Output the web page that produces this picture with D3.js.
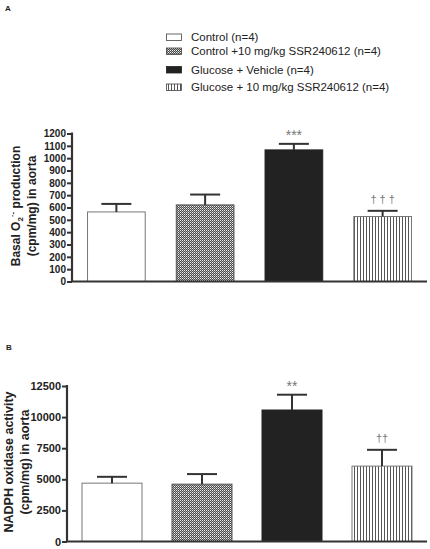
<!DOCTYPE html>
<html><head><meta charset="utf-8">
<script src="https://cdn.jsdelivr.net/npm/d3@7"></script>
<style>body{margin:0;background:#fff}svg{display:block}text{font-family:"Liberation Sans",Arial,sans-serif}</style>
</head><body>
<script>
const categories = ["Control (n=4)", "Control +10 mg/kg SSR240612 (n=4)", "Glucose + Vehicle (n=4)", "Glucose + 10 mg/kg SSR240612 (n=4)"];
const basalMean = [564, 621, 1067, 527];
const basalSem = [65, 84, 49, 46];
const basalMarks = ["", "", "***", "† † †"];
const nadphMean = [4690, 4610, 10570, 6060];
const nadphSem = [510, 810, 1230, 1310];
const nadphMarks = ["", "", "**", "††"];
const basalTicks = [0,100,200,300,400,500,600,700,800,900,1000,1100,1200];
const nadphTicks = [0,2500,5000,7500,10000,12500];

const W = 430, H = 549;
const svg = d3.select("body").append("svg").attr("width", W).attr("height", H);
svg.append("rect").attr("width", W).attr("height", H).attr("fill", "#fff");
const defs = svg.append("defs");
const chk = defs.append("pattern").attr("id","chk").attr("patternUnits","userSpaceOnUse").attr("width",2).attr("height",2);
chk.append("rect").attr("width",2).attr("height",2).attr("fill","#4a4a4a");
chk.append("rect").attr("width",1).attr("height",1).attr("fill","#f0f0f0");
chk.append("rect").attr("x",1).attr("y",1).attr("width",1).attr("height",1).attr("fill","#aaa");
const vl = defs.append("pattern").attr("id","vl").attr("patternUnits","userSpaceOnUse").attr("width",3).attr("height",3);
vl.append("rect").attr("width",3).attr("height",3).attr("fill","#fff");
vl.append("rect").attr("x",0).attr("width",1).attr("height",3).attr("fill","#555");

const fills = ["#fff", "url(#chk)", "#222", "url(#vl)"];
const strokes = ["#777", "#555", "#222", "#777"];

// panel letters
svg.append("text").attr("x",5).attr("y",11).attr("font-size",8).attr("font-weight","bold").attr("fill","#222").text("A");
svg.append("text").attr("x",6).attr("y",350).attr("font-size",8).attr("font-weight","bold").attr("fill","#222").text("B");

// legend
const legY = [37, 51, 69.5, 87];
const leg = svg.append("g");
categories.forEach((c,i)=>{
  leg.append("rect").attr("x",166.5).attr("y",legY[i]-3).attr("width",15).attr("height",6.5)
    .attr("fill",fills[i]).attr("stroke", i===2?"#222":"#444").attr("stroke-width",0.8);
  leg.append("text").attr("x",191).attr("y",legY[i]+4).attr("font-size",11.5).attr("fill","#222").text(c);
});

function panel(opt){
  const g = svg.append("g");
  const x = d3.scaleBand().domain(categories).range([opt.x0, opt.x1]).paddingInner(opt.pi).paddingOuter(opt.pi/2);
  const y = d3.scaleLinear().domain(opt.domain).range([opt.yb, opt.yt]);
  g.selectAll("rect.bar").data(opt.mean).join("rect").attr("class","bar")
    .attr("x",(d,i)=>x(categories[i])).attr("width",x.bandwidth())
    .attr("y",d=>y(d)).attr("height",d=>y(0)-y(d))
    .attr("fill",(d,i)=>fills[i]).attr("stroke",(d,i)=>strokes[i]).attr("stroke-width",1);
  opt.mean.forEach((m,i)=>{
    const cx = x(categories[i]) + x.bandwidth()/2;
    const top = y(m + opt.sem[i]);
    g.append("line").attr("x1",cx).attr("x2",cx).attr("y1",y(m)).attr("y2",top).attr("stroke","#333").attr("stroke-width",2);
    g.append("line").attr("x1",cx-15).attr("x2",cx+15).attr("y1",top).attr("y2",top).attr("stroke","#333").attr("stroke-width",2);
    const m2 = opt.marks[i];
    if (m2) {
      const isStar = m2.includes("*");
      g.append("text").attr("x",cx).attr("y", isStar ? top-4 : top-8)
        .attr("text-anchor","middle").attr("font-size", isStar ? 14 : 11).attr("fill","#777").text(m2);
    }
  });
  const ay = d3.axisLeft(y).tickValues(opt.ticks).tickSize(5).tickPadding(1).tickFormat(d3.format("d"));
  const ga = g.append("g").attr("transform",`translate(${opt.x0},0)`).call(ay);
  ga.select(".domain").attr("stroke","#333").attr("stroke-width",2.2).attr("d",`M0,${opt.yb}V${opt.yt-1}`);
  ga.selectAll(".tick line").attr("stroke","#333").attr("stroke-width",2);
  ga.selectAll(".tick text").attr("font-size",opt.tickSize).attr("font-weight","bold").attr("fill","#222")
    .attr("font-family","'Liberation Sans',Arial,sans-serif");
  g.append("line").attr("x1",opt.x0).attr("x2",opt.x1).attr("y1",opt.yb).attr("y2",opt.yb).attr("stroke","#333").attr("stroke-width",2.2);
  const lab = g.append("g").attr("transform",`translate(0,${opt.labY}) rotate(-90)`)
    .attr("font-size",opt.labSize).attr("font-weight","bold").attr("fill","#222").attr("text-anchor","middle");
  const l1 = lab.append("text").attr("x",0).attr("y",opt.lab1x);
  opt.lab1(l1);
  lab.append("text").attr("x",0).attr("y",opt.lab2x).text("(cpm/mg) in aorta");
}

panel({x0:72, x1:427, pi:0.35, domain:[0,1200], yb:281.5, yt:133.5, mean:basalMean, sem:basalSem,
  marks:basalMarks, ticks:basalTicks, tickSize:10, labY:206, labSize:12, lab1x:20, lab2x:36,
  lab1: t => { t.append("tspan").text("Basal O");
               t.append("tspan").attr("font-size",8).attr("dy",3).text("2");
               t.append("tspan").attr("font-size",8).attr("dy",-8).text("·-");
               t.append("tspan").attr("dy",5).text(" production"); }});

panel({x0:67, x1:427, pi:1/3, domain:[0,12500], yb:541.5, yt:386, mean:nadphMean, sem:nadphSem,
  marks:nadphMarks, ticks:nadphTicks, tickSize:11, labY:462, labSize:12.5, lab1x:13, lab2x:29,
  lab1: t => t.text("NADPH oxidase activity") });
</script>
</body></html>
